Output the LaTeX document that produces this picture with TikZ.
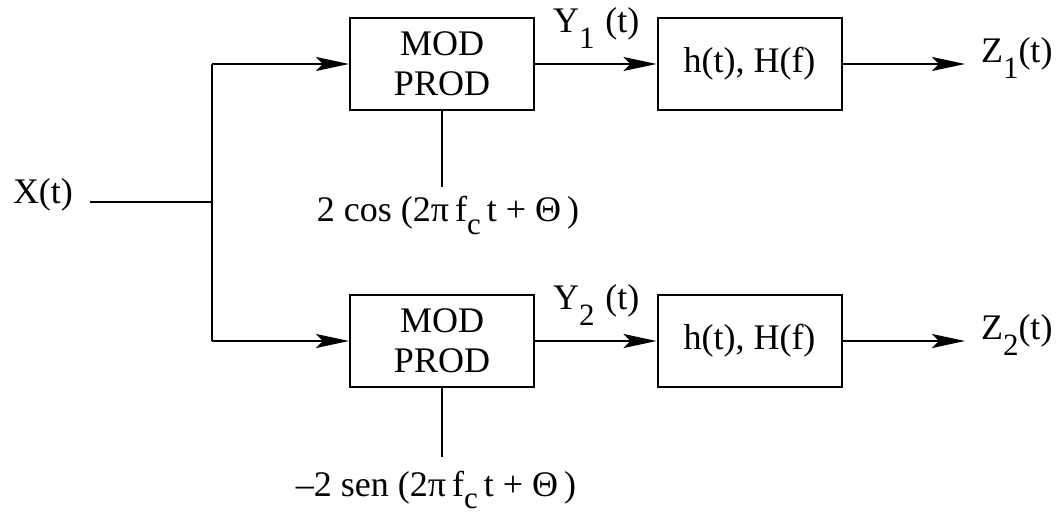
\documentclass[tikz,border=0pt]{standalone}
\usepackage{fontspec}
\setmainfont{Liberation Serif}
\usetikzlibrary{arrows.meta}
% lowered subscript, as in the original typesetting
\newcommand{\lsub}[2][0.42em]{\raisebox{-#1}{\fontsize{15.5}{15.5}\selectfont #2}}

\begin{document}
\begin{tikzpicture}[x=0.5pt,y=-0.5pt,
  font=\rmfamily\fontsize{18}{20}\selectfont,
  line width=1pt,
  blk/.style={draw, minimum width=92pt, minimum height=46pt, inner sep=0pt, align=center},
  arr/.style={-{Stealth[length=16.5pt,width=7pt,inset=3.5pt]}},
  lbl/.style={inner sep=0pt, anchor=base west},
  osc/.style={inner sep=0pt, outer sep=5pt, anchor=base}]
\useasboundingbox (0,0) rectangle (1058,512);

% input and branch point
\node[lbl] (x) at (12,204) {X(t)};
\coordinate (xs) at (90,202);
\coordinate (j) at (212,202);

% upper branch
\node[blk] (m1) at (442,64) {MOD\\PROD};
\node[blk] (h1) at (749.5,64) {h(t), H(f)};
\node[lbl] (y1) at (552,33) {Y\lsub{1}\hspace{0.3em}(t)};
\node[lbl] (z1) at (980,63) {Z\lsub{1}(t)};
\coordinate (o1) at (965,64);
\node[osc] (c1) at (448,222) {2 cos (2π\,f\lsub[0.34em]{c}\,t + Θ\,)};

% lower branch
\node[blk] (m2) at (442,341) {MOD\\PROD};
\node[blk] (h2) at (749.5,341) {h(t), H(f)};
\node[lbl] (y2) at (552,310) {Y\lsub{2}\hspace{0.3em}(t)};
\node[lbl] (z2) at (980,340) {Z\lsub{2}(t)};
\coordinate (o2) at (965,341);
\node[osc, outer sep=7pt] (c2) at (436,496) {–2 sen (2π\,f\lsub[0.34em]{c}\,t + Θ\,)};

% connectors
\draw (xs) -- (j);
\draw (j |- m1.west) -- (j |- m2.west);
\draw[arr] (j |- m1.west) -- (m1.west);
\draw[arr] (j |- m2.west) -- (m2.west);
\draw[arr] (m1.east) -- (h1.west);
\draw[arr] (m2.east) -- (h2.west);
\draw[arr] (h1.east) -- (o1);
\draw[arr] (h2.east) -- (o2);
\draw (m1.south) -- (m1.south |- c1.north);
\draw (m2.south) -- (m2.south |- c2.north);
\end{tikzpicture}
\end{document}
